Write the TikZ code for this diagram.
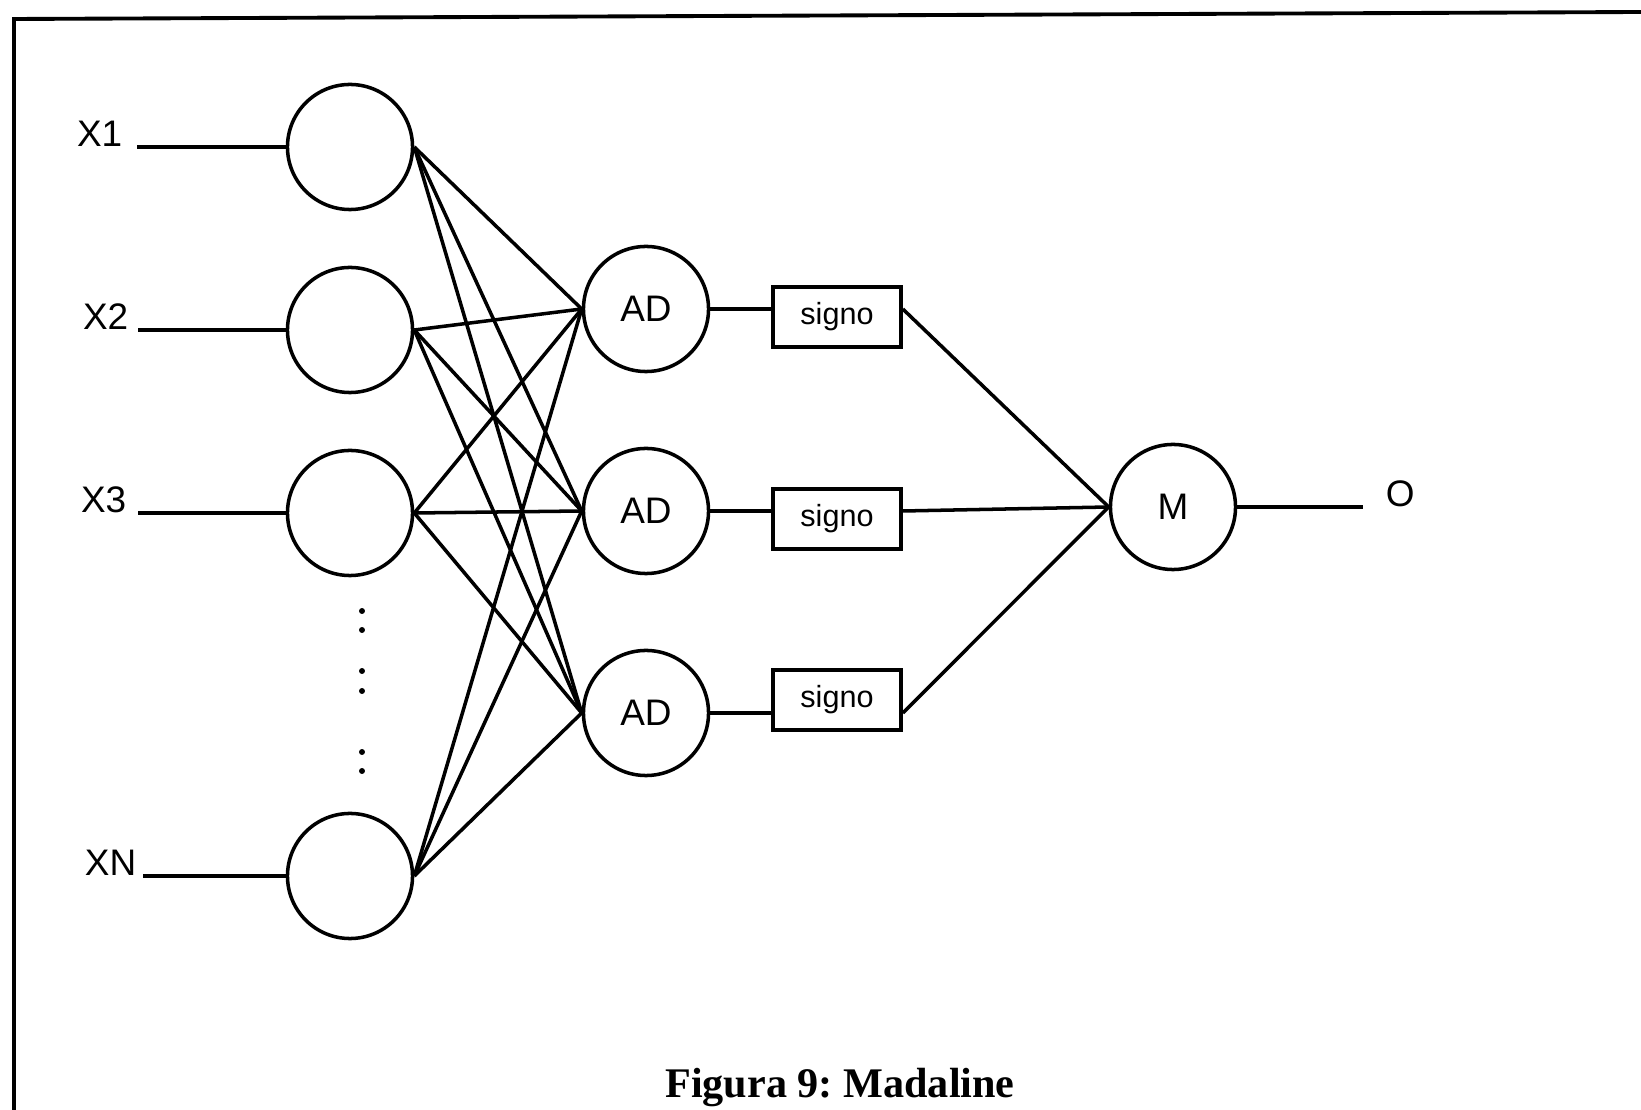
\documentclass[tikz,border=0pt]{standalone}
\usepackage{fontspec}
\setmainfont{Liberation Sans}
\newfontfamily\capfont{Liberation Serif}
\frenchspacing

\tikzset{
  neuron/.style={circle, draw, minimum size=1.25cm, inner sep=0pt, font=\fontsize{10.5}{12}\selectfont},
  signbox/.style={rectangle, draw, minimum width=1.28cm, minimum height=0.6cm, inner sep=0pt, font=\fontsize{8.7}{10}\selectfont},
  lbl/.style={inner sep=0pt, font=\fontsize{10.5}{12}\selectfont}
}

\begin{document}
\begin{tikzpicture}[x=0.01cm, y=-0.01cm, line width=1pt]
\useasboundingbox (0,0) rectangle (1641,1110);

% frame of the page
\draw[line width=1.1pt] (14,1110) -- (14,19) -- (1641,12);

% inputs
\node[neuron] (in1) at (350,147) {};
\node[neuron] (in2) at (350,330) {};
\node[neuron] (in3) at (350,513) {};
\node[neuron] (inN) at (350,876) {};

\coordinate (s1) at (137,147);
\coordinate (s2) at (138,330);
\coordinate (s3) at (138,513);
\coordinate (sN) at (143,876);

\node[lbl, anchor=base east] (x1) at ([xshift=-0.13cm]s1) {X1};
\node[lbl, anchor=base east] (x2) at ([xshift=-0.08cm]s2) {X2};
\node[lbl, anchor=base east] (x3) at ([xshift=-0.10cm]s3) {X3};
\node[lbl, anchor=base east] (xN) at ([xshift=-0.05cm]sN) {XN};

\foreach \i in {1,2,3,N}
  \draw (s\i) -- (in\i);

\foreach \y in {611,630,671,691,752,771}
  \fill (362,\y) circle (0.85pt);

% adalines
\node[neuron] (ad1) at (646,309) {AD};
\node[neuron] (ad2) at (646,511) {AD};
\node[neuron] (ad3) at (646,713) {AD};

\foreach \i in {1,2,3,N}
  \foreach \j in {1,2,3}
    \draw (in\i.east) -- (ad\j.west);

\node[signbox] (sg1) at (837,317) {signo};
\node[signbox] (sg2) at (837,519) {signo};
\node[signbox] (sg3) at (837,700) {signo};

% majority unit
\node[neuron] (m) at (1173,507) {M};

\foreach \j in {1,2,3} {
  \draw (ad\j.east) -- (ad\j.east -| sg\j.west);
  \draw (ad\j.east -| sg\j.east) -- (m.west);
}

\coordinate (out) at (1363,507);
\draw (m) -- (out);
\node[lbl, anchor=base west] (o) at ([xshift=0.21cm]out) {O};

\node[anchor=base, inner sep=0pt, font=\capfont\bfseries\fontsize{12}{14}\selectfont] (cap) at (840,1098) {Figura 9: Madaline};

\end{tikzpicture}
\end{document}
